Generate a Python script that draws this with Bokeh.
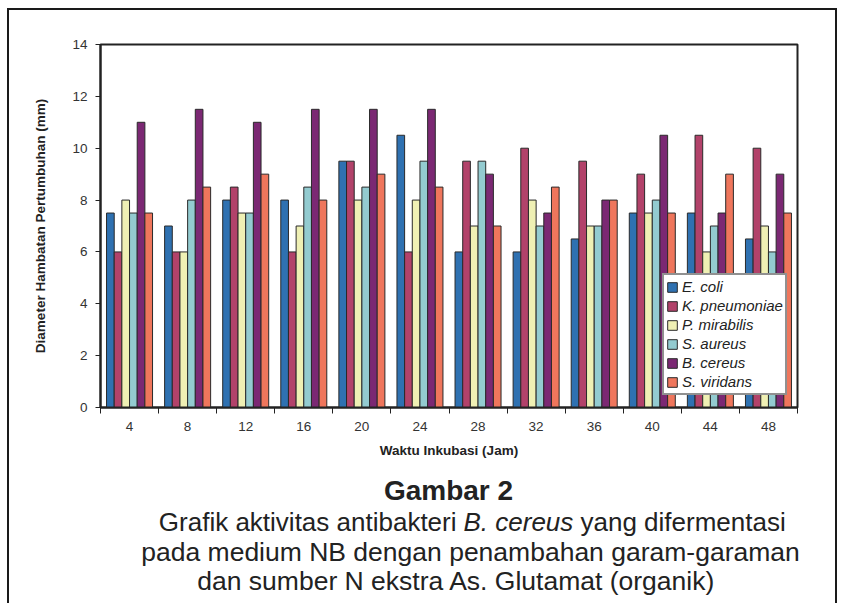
from bokeh.plotting import figure
from bokeh.models import (ColumnDataSource, Range1d, FixedTicker, Legend, LegendItem)
from bokeh.transform import dodge
from bokeh.embed import file_html
from bokeh.resources import INLINE

# ---- data ----
hours = ["4", "8", "12", "16", "20", "24", "28", "32", "36", "40", "44", "48"]
e_coli       = [7.5, 7.0, 8.0, 8.0, 9.5, 10.5, 6.0, 6.0, 6.5, 7.5, 7.5, 6.5]
k_pneumoniae = [6.0, 6.0, 8.5, 6.0, 9.5, 6.0, 9.5, 10.0, 9.5, 9.0, 10.5, 10.0]
p_mirabilis  = [8.0, 6.0, 7.5, 7.0, 8.0, 8.0, 7.0, 8.0, 7.0, 7.5, 6.0, 7.0]
s_aureus     = [7.5, 8.0, 7.5, 8.5, 8.5, 9.5, 9.5, 7.0, 7.0, 8.0, 7.0, 6.0]
b_cereus     = [11.0, 11.5, 11.0, 11.5, 11.5, 11.5, 9.0, 7.5, 8.0, 10.5, 7.5, 9.0]
s_viridans   = [7.5, 8.5, 9.0, 8.0, 9.0, 8.5, 7.0, 8.5, 8.0, 7.5, 9.0, 7.5]

series_names = ["E. coli", "K. pneumoniae", "P. mirabilis", "S. aureus", "B. cereus", "S. viridans"]
series_cols = ["e_coli", "k_pneumoniae", "p_mirabilis", "s_aureus", "b_cereus", "s_viridans"]
colors = ["#2f71b1", "#b2426a", "#eff0b4", "#93cbd0", "#7b2873", "#ef765c"]
y_ticks = [0, 2, 4, 6, 8, 10, 12, 14]

caption_title = "Gambar 2"
caption_line1 = ["Grafik aktivitas antibakteri", "B. cereus", "yang difermentasi"]
caption_line2 = "pada medium NB dengan penambahan garam-garaman"
caption_line3 = "dan sumber N ekstra As. Glutamat (organik)"

centers = [i + 0.5 for i in range(len(hours))]
src = ColumnDataSource(dict(x=centers, e_coli=e_coli, k_pneumoniae=k_pneumoniae,
                            p_mirabilis=p_mirabilis, s_aureus=s_aureus,
                            b_cereus=b_cereus, s_viridans=s_viridans))

FONT = "Liberation Sans"
INK = "#222222"
BORDER = "2px solid #1a1a1a"
W = 830

p = figure(width=W, height=457, output_backend="svg", toolbar_location=None,
           x_range=Range1d(0, len(hours)), y_range=Range1d(0, 14),
           min_border_left=91, min_border_right=W - 91 - 697, min_border_top=34, min_border_bottom=60)
p.styles = {"border-left": BORDER, "border-top": BORDER, "border-right": BORDER,
            "margin-left": "7px", "margin-top": "8px"}

p.xgrid.visible = False
p.ygrid.visible = False
p.outline_line_color = INK
p.outline_line_width = 2

bw = 0.132
renderers = []
for j, (col, c) in enumerate(zip(series_cols, colors)):
    off = (j - 2.5) * bw
    r = p.vbar(x=dodge("x", off), top=col, width=bw, source=src,
               fill_color=c, line_color="#2a2a2a", line_width=1)
    renderers.append(r)

# x axis: labels at group centers, tick marks at group boundaries
xa = p.xaxis[0]
xa.ticker = FixedTicker(ticks=centers, minor_ticks=list(range(len(hours) + 1)))
xa.major_label_overrides = {c: h for c, h in zip(centers, hours)}
xa.major_tick_line_color = None
xa.minor_tick_line_color = INK
xa.minor_tick_out = 6
xa.minor_tick_in = 0
xa.major_label_standoff = 8
xa.axis_line_color = INK
xa.axis_line_width = 2
xa.major_label_text_font = FONT
xa.major_label_text_font_size = "13.5px"
xa.major_label_text_color = "#333333"
xa.axis_label = "Waktu Inkubasi (Jam)"
xa.axis_label_text_font = FONT
xa.axis_label_text_font_style = "bold"
xa.axis_label_text_font_size = "13.5px"
xa.axis_label_text_color = INK
xa.axis_label_standoff = 9

ya = p.yaxis[0]
ya.ticker = FixedTicker(ticks=y_ticks)
ya.major_tick_out = 5
ya.major_tick_in = 0
ya.major_tick_line_color = INK
ya.minor_tick_line_color = None
ya.axis_line_color = INK
ya.axis_line_width = 2
ya.major_label_standoff = 8
ya.major_label_text_font = FONT
ya.major_label_text_font_size = "13.5px"
ya.major_label_text_color = "#333333"
ya.axis_label = "Diameter Hambatan Pertumbuhan (mm)"
ya.axis_label_text_font = FONT
ya.axis_label_text_font_style = "bold"
ya.axis_label_text_font_size = "13.5px"
ya.axis_label_text_color = INK
ya.axis_label_standoff = 21

legend = Legend(items=[LegendItem(label=n, renderers=[r]) for n, r in zip(series_names, renderers)],
                location=(562, 12), label_text_font=FONT, label_text_font_style="italic",
                label_text_font_size="15px", label_text_color=INK,
                glyph_width=12, glyph_height=12, label_height=19, label_standoff=4,
                spacing=0, padding=2, margin=0,
                border_line_color=INK, border_line_width=2,
                background_fill_color="white", background_fill_alpha=1)
p.add_layout(legend)

# ---- caption panel (separate root so its frame spans the full width) ----
CH = 138
cap = figure(width=W, height=CH, output_backend="svg", toolbar_location=None,
             x_range=Range1d(0, W), y_range=Range1d(CH, 0),
             x_axis_type=None, y_axis_type=None,
             min_border_left=0, min_border_right=0, min_border_top=0, min_border_bottom=0)
cap.styles = {"border-left": BORDER, "border-right": BORDER, "margin-left": "7px"}
cap.xgrid.visible = False
cap.ygrid.visible = False
cap.outline_line_color = None

txt = dict(text_font={"value": FONT}, text_color=INK, text_baseline="alphabetic")
cap.text(x=[439], y=[25], text=[caption_title], text_align="center",
         text_font_style="bold", text_font_size="28px", **txt)
cap.text(x=[447], y=[56], text=[caption_line1[0]], text_align="right",
         text_font_size="26px", **txt)
cap.text(x=[454], y=[56], text=[caption_line1[1]], text_align="left",
         text_font_style="italic", text_font_size="26px", **txt)
cap.text(x=[571], y=[56], text=[caption_line1[2]], text_align="left",
         text_font_size="26px", **txt)
cap.text(x=[461], y=[86], text=[caption_line2], text_align="center",
         text_font_size="26.5px", **txt)
cap.text(x=[447], y=[115], text=[caption_line3], text_align="center",
         text_font_size="26.5px", **txt)

open("out.html", "w").write(file_html([p, cap], INLINE))
